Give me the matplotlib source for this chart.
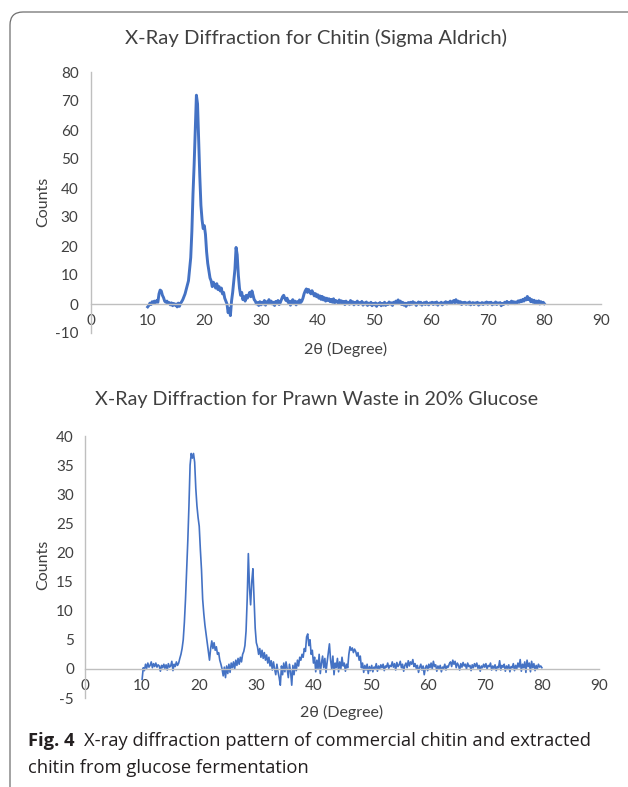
import numpy as np
import matplotlib
matplotlib.use("Agg")
import matplotlib.pyplot as plt
from matplotlib.patches import FancyBboxPatch

plt.rcParams["axes.unicode_minus"] = False

# ---------------- data ----------------
two_theta_start = 10.0
two_theta_end = 80.0

chitin_counts = [
    -1.0, -0.5, 0.3, -0.2, 0.8, 0.2, 1.0, 0.5, 1.2, 0.6,
    3.5, 4.8, 4.5, 3.0, 2.2, 1.0, 0.6, 1.0, 0.2, 0.5,
    -0.3, 0.4, -0.6, 0.2, -0.4, 0.0, -1.0, 0.3, -0.8, 0.2,
    0.8, 1.5, 2.5, 3.5, 5.0, 6.5, 8.0, 12.0, 16.0, 25.0,
    38.0, 48.0, 60.0, 72.0, 69.0, 56.0, 44.0, 34.0, 29.0, 26.0,
    27.0, 24.0, 18.0, 14.0, 11.5, 9.0, 8.0, 6.0, 7.5, 6.5,
    5.5, 7.0, 5.0, 6.0, 4.5, 5.5, 3.5, 4.0, 2.0, 1.0,
    0.0, -3.0, -1.5, -4.0, 1.0, 4.0, 8.0, 12.0, 19.5, 17.0,
    10.0, 5.5, 3.0, 4.0, 1.5, 2.5, 1.0, 3.0, 2.0, 3.0,
    4.0, 2.5, 4.5, 3.0, 1.5, 1.0, 0.0, 0.5, -0.5, 0.8,
    -0.3, 0.6, 0.0, 1.2, -0.4, 0.8, 0.2, 1.5, 0.4, 1.0,
    0.0, 0.6, -0.5, 0.9, 0.2, 1.2, -0.2, 0.5, 1.5, 2.5,
    3.0, 2.0, 1.2, 2.0, 0.5, 1.0, -0.4, 0.8, 1.5, 0.3,
    1.0, -0.3, 0.8, 0.2, 1.4, 0.5, 1.0, 2.0, 3.5, 4.5,
    5.2, 4.0, 5.0, 4.2, 3.5, 4.6, 3.8, 2.8, 3.6, 2.5,
    3.2, 2.0, 2.8, 1.6, 2.6, 1.4, 2.2, 1.0, 2.0, 1.2,
    1.8, 0.8, 1.6, 0.6, 1.8, 0.4, 1.2, 0.9, 0.3, 1.4,
    0.5, 1.1, 0.2, 0.9, -0.2, 1.0, 0.4, 0.6, -0.1, 1.2,
    0.3, 0.8, -0.3, 0.6, 0.1, 1.0, -0.2, 0.5, 0.2, 0.9,
    -0.4, 0.4, 0.0, 0.7, -0.5, 0.3, -0.1, 0.6, -0.6, 0.2,
    -0.3, 0.4, -0.8, 0.1, -0.2, 0.5, -0.6, 0.2, -0.4, 0.6,
    -0.5, 0.1, -0.2, 0.7, 0.0, 0.4, -0.5, 0.6, 0.2, 1.0,
    0.4, 1.4, 0.3, 1.0, -0.2, 0.6, -0.4, 0.3, -0.8, 0.2,
    0.5, -0.3, 0.6, -0.1, 0.8, 0.1, 0.4, -0.5, 0.3, 0.7,
    0.0, 0.6, -0.4, 0.2, 0.5, -0.2, 0.7, 0.1, -0.3, 0.4,
    0.2, 0.6, -0.2, 0.5, 0.0, 0.7, -0.4, 0.3, 0.1, 0.6,
    -0.3, 0.4, 0.2, 0.8, 0.0, 0.6, 0.3, 1.0, 0.2, 0.7,
    1.2, 0.4, 1.5, 0.6, 1.0, 0.1, 0.8, -0.2, 0.5, 0.2,
    0.6, -0.1, 0.4, 0.0, 0.7, -0.3, 0.3, 0.5, -0.2, 0.4,
    0.1, 0.6, -0.4, 0.3, 0.0, 0.5, -0.2, 0.4, 0.1, 0.7,
    -0.1, 0.5, 0.2, 0.6, -0.3, 0.3, 0.0, 0.7, -0.2, 0.4,
    0.1, 0.5, -0.6, 0.2, -0.2, 0.6, 0.3, 0.9, 0.0, 0.5,
    0.4, 1.0, 0.2, 0.8, 0.1, 0.7, 0.4, 1.1, 0.6, 1.3,
    0.8, 1.6, 1.0, 2.0, 1.4, 2.6, 1.5, 2.0, 0.8, 1.5,
    0.6, 1.3, 0.2, 1.0, 0.4, 1.1, 0.0, 0.8, 0.3, 0.6,
    0.1,
]

prawn_counts = [
    -1.8, 0.2, -0.3, 0.8, 0.1, 1.0, 0.3, 0.6, 1.2, 0.2,
    0.9, 0.4, 1.0, 0.3, 0.7, 0.5, -0.4, 0.6, 0.2, 0.8,
    0.1, 0.7, -0.2, 0.9, 0.3, 0.5, 1.3, -0.3, 0.8, 0.4,
    1.2, 0.6, 1.0, 1.8, 2.5, 3.5, 5.0, 8.0, 12.0, 17.0,
    22.0, 28.0, 35.0, 37.0, 36.2, 37.0, 35.5, 31.0, 28.0, 26.0,
    24.5, 20.5, 17.0, 12.0, 9.5, 7.5, 6.0, 4.5, 3.0, 1.5,
    3.5, 4.8, 3.5, 4.5, 3.2, 3.8, 2.5, 2.8, 1.5, 0.8,
    0.0, -1.2, 0.3, -1.5, 0.5, -0.8, 0.8, -0.6, 1.0, 0.2,
    1.2, 0.0, 1.5, 0.6, 1.8, 0.8, 2.0, 1.2, 2.5, 3.0,
    4.0, 6.5, 12.0, 19.8, 14.0, 11.0, 15.0, 17.2, 12.0, 7.0,
    4.5, 3.8, 2.5, 3.5, 2.0, 3.2, 1.8, 2.8, 1.5, 2.4,
    1.0, 2.0, 0.5, 1.4, -0.2, 1.2, 0.0, -1.0, 0.8, -0.5,
    -1.5, -2.8, 0.5, -1.0, 1.0, -0.5, 1.2, 0.0, -1.5, 0.8,
    -0.5, -2.8, 0.6, -1.0, 1.0, -0.3, 1.5, 0.5, 2.0, 1.5,
    2.5, 2.0, 3.5, 3.0, 5.5, 6.0, 4.0, 5.0, 2.5, 3.2,
    1.0, 2.0, -0.5, 1.5, 0.0, 2.5, -0.8, 1.0, 2.2, 0.2,
    1.8, -0.6, 1.2, 2.8, 4.3, 1.5, 0.0, 2.2, -1.0, 1.0,
    0.2, 1.8, -0.5, 1.2, 0.0, 2.0, 0.5, 1.0, -0.4, 0.8,
    0.2, 2.5, 3.8, 3.2, 3.6, 2.8, 3.4, 3.0, 2.2, 2.8,
    1.5, 2.2, 0.2, 1.0, -0.6, 0.6, -0.2, 0.8, -0.8, 0.4,
    -0.3, 0.6, -0.5, 0.3, 0.1, 0.9, -0.4, 0.5, 0.0, 0.7,
    0.2, 0.8, -0.3, 0.5, 0.3, 1.0, 0.1, 0.6, 0.4, 1.2,
    0.3, 0.9, -0.2, 1.1, 0.4, 0.7, 1.3, 0.2, 0.8, -0.4,
    0.6, 1.0, 0.2, 1.4, 0.5, 1.2, 0.8, 1.6, 0.4, 0.9,
    0.1, 0.6, -0.6, 0.3, 0.8, -0.2, 0.5, -1.0, 0.2, 0.6,
    -0.3, 0.8, 0.2, 1.0, 0.0, 1.3, 0.4, 0.7, -0.4, 0.5,
    0.0, 0.6, -0.5, 0.3, 0.1, 0.8, -0.2, 0.5, 0.3, 0.9,
    1.2, 0.4, 1.5, 0.8, 1.3, 0.2, 1.0, 0.6, -0.2, 0.9,
    0.3, 1.1, 0.5, 0.8, 0.0, 1.0, 0.4, 0.6, -0.3, 0.7,
    0.2, 0.9, 0.4, 1.0, 0.1, 0.6, -0.4, 0.5, 0.2, 0.8,
    0.3, 0.9, 0.0, 0.6, 0.4, 1.0, -0.2, 0.5, 0.1, 0.7,
    -0.3, 0.4, 0.2, 1.4, -0.2, 0.6, 0.3, 0.8, -0.4, 0.5,
    0.1, 0.7, -0.5, 0.4, 0.2, 0.9, -0.3, 0.6, 0.0, 1.0,
    0.3, 1.6, -0.4, 0.8, 0.2, 1.2, -0.6, 1.5, 0.4, 1.0,
    -0.5, 1.3, 0.2, 0.9, -0.3, 0.6, 0.0, 0.8, 0.3, 0.5,
    0.2,
]

x_ticks = [0, 10, 20, 30, 40, 50, 60, 70, 80, 90]
chitin_yticks = [-10, 0, 10, 20, 30, 40, 50, 60, 70, 80]
prawn_yticks = [-5, 0, 5, 10, 15, 20, 25, 30, 35, 40]

title_top = "X-Ray Diffraction for Chitin (Sigma Aldrich)"
title_bottom = "X-Ray Diffraction for Prawn Waste in 20% Glucose"
x_label = "2θ (Degree)"
y_label = "Counts"
caption_bold = "Fig. 4"
caption_line1 = "X-ray diffraction pattern of commercial chitin and extracted"
caption_line2 = "chitin from glucose fermentation"

# ---------------- figure ----------------
W, H = 628, 787
fig = plt.figure(figsize=(W / 100, H / 100), dpi=100)
fig.patch.set_facecolor("white")

LINE = "#4472C4"
AXC = "#BFBFBF"
TXT = "#404040"
FONT = ["Lato", "DejaVu Sans"]

def fx(px):
    return px / W

def fy(py):
    return 1 - py / H

def style_axis(ax, yticks, ylim, xpad, ypad):
    ax.set_xlim(0, 90)
    ax.set_ylim(*ylim)
    ax.set_xticks(x_ticks)
    ax.set_yticks(yticks)
    for s in ("top", "right"):
        ax.spines[s].set_visible(False)
    ax.spines["bottom"].set_position(("data", 0))
    ax.spines["bottom"].set_color(AXC)
    ax.spines["left"].set_color(AXC)
    ax.spines["bottom"].set_linewidth(1.0)
    ax.spines["left"].set_linewidth(1.0)
    ax.tick_params(axis="both", length=0, labelsize=11, labelcolor=TXT)
    ax.tick_params(axis="x", pad=xpad)
    ax.tick_params(axis="y", pad=ypad)
    for lab in ax.get_xticklabels() + ax.get_yticklabels():
        lab.set_family(FONT)
    ax.patch.set_alpha(0)

# top axes
ax1 = fig.add_axes([fx(91), fy(333), fx(601) - fx(91), fy(72) - fy(333)])
x1 = np.linspace(two_theta_start, two_theta_end, len(chitin_counts))
ax1.plot(x1, chitin_counts, color=LINE, lw=2.1, solid_joinstyle="round")
style_axis(ax1, chitin_yticks, (-10, 80), 7.5, 9)

# bottom axes
ax2 = fig.add_axes([fx(85), fy(698), fx(599) - fx(85), fy(436) - fy(698)])
x2 = np.linspace(two_theta_start, two_theta_end, len(prawn_counts))
ax2.plot(x2, prawn_counts, color=LINE, lw=1.2, solid_joinstyle="round")
style_axis(ax2, prawn_yticks, (-5, 40), 7.5, 8)

# titles & labels
fig.text(fx(316), fy(38), title_top, ha="center", va="center",
         fontsize=14.6, color=TXT, family=FONT)
fig.text(fx(317), fy(400), title_bottom, ha="center", va="center",
         fontsize=14.2, color=TXT, family=FONT)
fig.text(fx(346), fy(349), x_label, ha="center", va="center",
         fontsize=11.5, color=TXT, family=FONT)
fig.text(fx(342), fy(712), x_label, ha="center", va="center",
         fontsize=11.5, color=TXT, family=FONT)
fig.text(fx(43), fy(202), y_label, ha="center", va="center", rotation=90,
         fontsize=11.5, color=TXT, family=FONT)
fig.text(fx(43), fy(565), y_label, ha="center", va="center", rotation=90,
         fontsize=11.5, color=TXT, family=FONT)

# caption
CAPF = ["Open Sans", "DejaVu Sans"]
CAPC = "#231F20"
CAPS = 13.2
tb = fig.text(fx(28), fy(741), caption_bold, ha="left", va="center",
              fontsize=CAPS, fontweight="bold", color=CAPC, family=CAPF)
fig.canvas.draw()
r = fig.canvas.get_renderer()
bb = tb.get_window_extent(renderer=r)
fig.text((bb.x1 + 9) / W, fy(741), caption_line1, ha="left", va="center",
         fontsize=CAPS, color=CAPC, family=CAPF)
fig.text(fx(28), fy(768), caption_line2, ha="left", va="center",
         fontsize=CAPS, color=CAPC, family=CAPF)

# rounded frame
frame = FancyBboxPatch((0.10, -0.30), 6.8, 7.87 - 0.12 + 0.30,
                       boxstyle="round,pad=0,rounding_size=0.13",
                       transform=fig.dpi_scale_trans, fill=False,
                       edgecolor="#6E6E6E", linewidth=0.9)
fig.patches.append(frame)

fig.savefig("out.png", dpi=100, facecolor="white")
